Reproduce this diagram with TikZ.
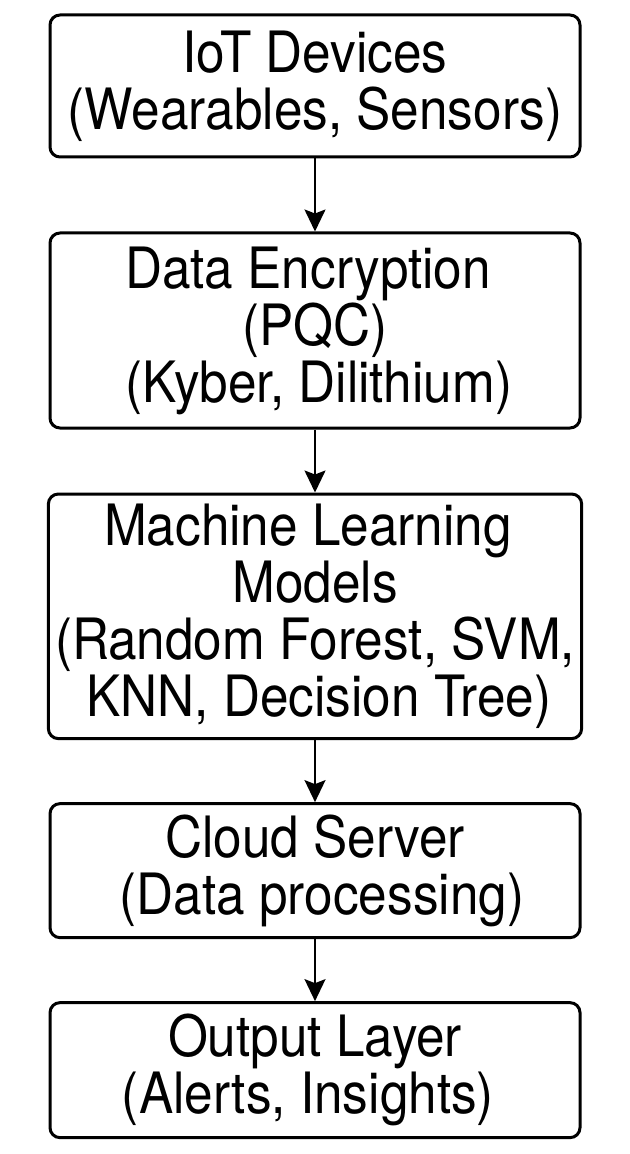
\documentclass[tikz,border=0pt]{standalone}
\usepackage{fontspec}
\setmainfont{TeX Gyre Heros}[FakeStretch=0.9]
\usepackage{tikz}
\usetikzlibrary{positioning}
\usetikzlibrary{arrows.meta}
\tikzstyle{block} = [draw, rectangle, rounded corners=5pt, line width=1.5pt, minimum width=265pt, align=center, inner ysep=5pt, font=\fontsize{28.5}{28.5}\selectfont]
\tikzstyle{link} = [line width=1pt]

\begin{document}
\begin{tikzpicture}[auto,node distance=31.5pt,>={Stealth[length=11pt,width=10.5pt,inset=2pt]}]
    \useasboundingbox (0,0) rectangle (315pt,-577pt);
    \node [block, minimum height=71pt] (dev) at (157.5pt,-43pt) {IoT Devices\\(Wearables, Sensors)};
    \node [block, below=36.5pt of dev, minimum height=97.5pt] (enc) {Data Encryption\hspace*{7pt}\\(PQC)\hspace*{5pt}\\\hspace*{4pt}(Kyber, Dilithium)};
    \node [block, below=of enc, minimum height=121.5pt] (ml) {Machine Learning\hspace*{7pt}\\Models\\(Random Forest, SVM,\\\hspace*{4pt}KNN, Decision Tree)};
    \node [block, below=31pt of ml, minimum height=67pt] (cloud) {Cloud Server\\\hspace*{7pt}(Data processing)};
    \node [block, below=31pt of cloud, minimum height=67.5pt] (out) {Output Layer\\(Alerts, Insights)\hspace*{7pt}};

    \draw [link,->] (dev) -- (enc);
    \draw [link,->] (enc) -- (ml);
    \draw [link,->] (ml) -- (cloud);
    \draw [link,->] (cloud) -- (out);
\end{tikzpicture}
\end{document}
